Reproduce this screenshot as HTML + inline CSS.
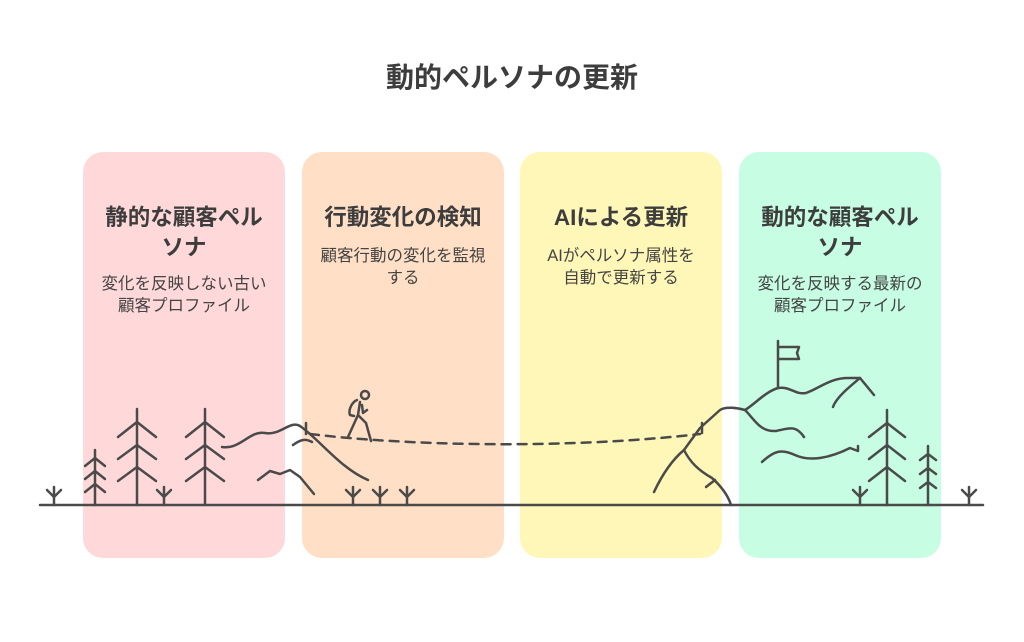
<!DOCTYPE html>
<html><head><meta charset="utf-8"><style>
body{margin:0;width:1024px;height:642px;background:#fff;font-family:"Liberation Sans","Noto Sans CJK JP",sans-serif;color:#444;position:relative;overflow:hidden}
.p{position:absolute;top:152px;width:202px;height:406px;border-radius:20px}
.t{position:absolute;width:202px;text-align:center;font-weight:bold;font-size:22.5px;line-height:30px;color:#3d3d3d}
.d{position:absolute;width:202px;text-align:center;font-size:16.5px;line-height:22px;color:#444}
</style></head><body>
<div style="position:absolute;top:61px;left:0;width:1024px;text-align:center;font-weight:bold;font-size:28px;line-height:34px;color:#3d3d3d">動的ペルソナの更新</div>
<div class="p" style="left:83px;background:#ffd9d9"></div>
<div class="p" style="left:302px;background:#ffe0c6"></div>
<div class="p" style="left:520px;background:#fff7b8"></div>
<div class="p" style="left:739px;background:#c7fde3"></div>
<div class="t" style="left:83px;top:203px">静的な顧客ペル<br>ソナ</div>
<div class="d" style="left:83px;top:273px">変化を反映しない古い<br>顧客プロファイル</div>
<div class="t" style="left:302px;top:203px">行動変化の検知</div>
<div class="d" style="left:302px;top:245px">顧客行動の変化を監視<br>する</div>
<div class="t" style="left:520px;top:203px">AIによる更新</div>
<div class="d" style="left:520px;top:245px">AIがペルソナ属性を<br>自動で更新する</div>
<div class="t" style="left:739px;top:203px">動的な顧客ペル<br>ソナ</div>
<div class="d" style="left:739px;top:273px">変化を反映する最新の<br>顧客プロファイル</div>
<svg width="1024" height="642" style="position:absolute;left:0;top:0" fill="none" stroke="#4a4a4a" stroke-width="2.5" stroke-linecap="round" stroke-linejoin="round">
<line x1="40" y1="505" x2="983" y2="505"/>
<g id="g"><path d="M54 505V487M47 490L54 497L61 490"/></g>
<use href="#g" x="110"/><use href="#g" x="299"/><use href="#g" x="326"/><use href="#g" x="353"/><use href="#g" x="806"/><use href="#g" x="915"/>
<path d="M95 505V450M85 466L95 458L105 466M85 479L95 471L105 479M85 492L95 484L105 492"/>
<path d="M137 505V409M118 437L137 422L156 437M118 459L137 445L156 459M118 481L137 467L156 481"/>
<path d="M205 505V409M186 437L205 422L224 437M186 459L205 445L224 459M186 481L205 467L224 481"/>
<path d="M887 505V410M869 437L887 423L905 437M869 459L887 445L905 459M869 481L887 467L905 481"/>
<path d="M928 505V446M920 460L928 454L936 460M920 474L928 468L936 474M920 488L928 482L936 488"/>
<path d="M222 447C240 450 250 430 265 433C280 436 290 420 300 426C320 440 340 468 368 480"/>
<path d="M293 445C300 440 305 438 312 442"/>
<path d="M258 480L270 471L280 474L290 470L300 477L314 494"/>
<circle cx="365" cy="395" r="4"/>
<path d="M360 402L358 415L348 437M358 415L366 423L371 441M362 405L363 413L367 410M357 400C352 402 348 410 350 415L354 416"/>
<path d="M306 423V434"/>
<path d="M310 434C400 445 560 450 700 434" stroke-dasharray="9 7"/>
<path d="M702 423V433"/>
<path d="M654 492C662 475 672 460 684 450C690 462 698 470 712 478C720 485 728 495 731 505"/>
<path d="M706 487L715 480"/>
<path d="M684 450L700 428L720 410C726 406 738 408 745 410C755 404 765 392 778 388C790 386 795 395 806 393C820 388 830 378 848 378L860 378L874 395"/>
<path d="M860 378C848 388 836 398 833 407"/>
<path d="M745 410C755 420 760 432 776 431C790 428 796 425 804 437"/>
<path d="M762 462C775 450 782 449 795 455C810 462 830 458 850 448L858 451L858 446"/>
<path d="M778 388V341M778 347H799L797 353L799 359H778"/>
</svg>
</body></html>
